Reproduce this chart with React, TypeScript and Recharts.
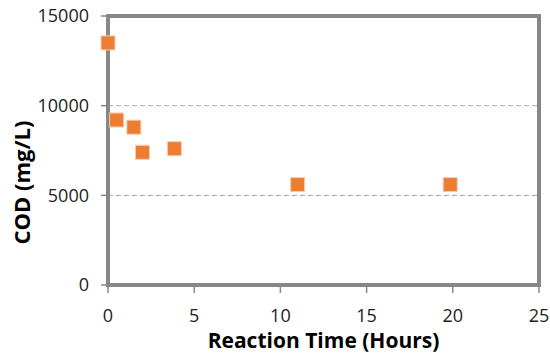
import React from "react";
import {
  CartesianGrid,
  ReferenceArea,
  Scatter,
  ScatterChart,
  XAxis,
  YAxis,
} from "recharts";

const hours = [0, 0.5, 1.5, 2, 3.85, 11, 19.85];
const cod = [13500, 9200, 8800, 7400, 7600, 5600, 5600];
const xTicks = [0, 5, 10, 15, 20, 25];
const yTicks = [0, 5000, 10000, 15000];

const points = hours.map((h, i) => ({ h, cod: cod[i] }));

const FONT = "'Open Sans', 'Noto Sans', sans-serif";
const BORDER = "#878787";
const MARK = 14;

function SquareMark(props: any) {
  const { cx, cy } = props;
  return (
    <rect
      x={cx - MARK / 2}
      y={cy - MARK / 2}
      width={MARK}
      height={MARK}
      fill="#ED7D31"
      stroke="#f8cbad"
      strokeWidth={1}
    />
  );
}

function YTitle(props: any) {
  const vb = props.viewBox;
  const cx = 21;
  const cy = vb.y + vb.height / 2 + 32;
  return (
    <text
      x={cx}
      y={cy}
      transform={`rotate(-90 ${cx} ${cy})`}
      textAnchor="middle"
      dominantBaseline="central"
      fontFamily={FONT}
      fontWeight="bold"
      fontSize={22}
      fill="#000"
    >
      COD (mg/L)
    </text>
  );
}

export default function App() {
  return (
    <div style={{ position: "absolute", left: 0, top: 0, background: "#fff" }}>
      <ScatterChart
        width={550}
        height={354}
        margin={{ top: 16, right: 11, bottom: 0, left: 0 }}
      >
        <CartesianGrid
          vertical={false}
          stroke="#a6a6a6"
          strokeDasharray="5 3"
        />
        <XAxis
          type="number"
          dataKey="h"
          domain={[0, 25]}
          ticks={xTicks}
          height={69}
          axisLine={{ stroke: BORDER, strokeWidth: 4 }}
          tickLine={{ stroke: BORDER, strokeWidth: 1.5 }}
          tickSize={8}
          tickMargin={16}
          tick={{ fill: "#222", fontSize: 18, fontFamily: FONT }}
          label={{
            value: "Reaction Time (Hours)",
            position: "insideBottom",
            offset: 6,
            fill: "#000",
            fontSize: 21,
            fontWeight: "bold",
            fontFamily: FONT,
          }}
        />
        <YAxis
          type="number"
          dataKey="cod"
          domain={[0, 15000]}
          ticks={yTicks}
          width={108}
          axisLine={{ stroke: BORDER, strokeWidth: 4 }}
          tickLine={{ stroke: BORDER, strokeWidth: 1.5 }}
          tickSize={7}
          tickMargin={12}
          tick={{ fill: "#222", fontSize: 18, fontFamily: FONT }}
          label={<YTitle />}
        />
        <ReferenceArea
          x1={0}
          x2={25}
          y1={0}
          y2={15000}
          fill="none"
          fillOpacity={0}
          stroke={BORDER}
          strokeWidth={4}
        />
        <Scatter
          data={points}
          shape={<SquareMark />}
          fill="#ED7D31"
          isAnimationActive={false}
        />
      </ScatterChart>
    </div>
  );
}
